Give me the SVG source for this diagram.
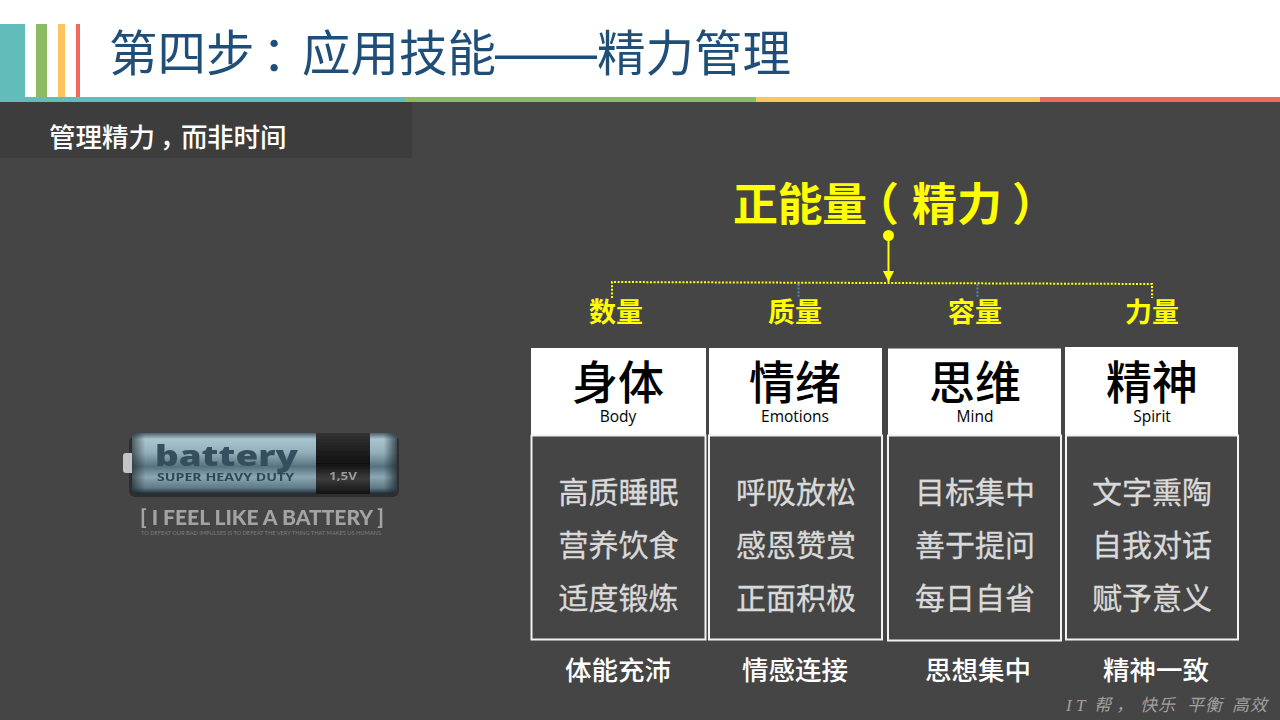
<svg xmlns="http://www.w3.org/2000/svg" width="1280" height="720" viewBox="0 0 1280 720">
<style>
.cjk{font-family:"Noto Sans CJK SC","Microsoft YaHei",sans-serif}
.tc{font-family:"Noto Sans CJK TC",sans-serif}
.lat{font-family:"Open Sans","Noto Sans",sans-serif}
.y{fill:#ffff00;font-weight:700;text-anchor:middle;font-size:27px}
.h{fill:#000;font-weight:500;text-anchor:middle;font-size:46px}
.s{fill:#000;text-anchor:middle;font-size:15.500px}
.b{fill:#d9d9d9;text-anchor:middle;font-size:30px;stroke:#d9d9d9;stroke-width:.3}
.f{fill:#fff;font-weight:500;text-anchor:middle;font-size:26.500px}
.hd{fill:#fff}
.bx{fill:#454545;stroke:#f2f2f2;stroke-width:2}
.dot{fill:none;stroke-width:2;stroke-dasharray:2 1.6}
</style>
<defs>
<linearGradient id="cell" x1="0" y1="0" x2="0" y2="1">
<stop offset="0" stop-color="#4d626c"/><stop offset=".1" stop-color="#a9c4cd"/><stop offset=".32" stop-color="#93b0ba"/><stop offset=".55" stop-color="#56727f"/><stop offset=".72" stop-color="#8aa7b2"/><stop offset=".9" stop-color="#5f7a86"/><stop offset="1" stop-color="#1f2a30"/>
</linearGradient>
<linearGradient id="blk" x1="0" y1="0" x2="0" y2="1">
<stop offset="0" stop-color="#333"/><stop offset=".5" stop-color="#111"/><stop offset=".75" stop-color="#3c3c3c"/><stop offset="1" stop-color="#111"/>
</linearGradient>
<linearGradient id="edge" x1="0" y1="0" x2="1" y2="0">
<stop offset="0" stop-color="#1c262b" stop-opacity=".65"/><stop offset=".05" stop-color="#1c262b" stop-opacity="0"/><stop offset=".95" stop-color="#1c262b" stop-opacity="0"/><stop offset="1" stop-color="#1c262b" stop-opacity=".75"/>
</linearGradient>
<filter id="soft" x="-5%" y="-10%" width="110%" height="120%"><feGaussianBlur stdDeviation=".7"/></filter>
<filter id="soft2" x="-5%" y="-20%" width="110%" height="140%"><feGaussianBlur stdDeviation=".35"/></filter>
<marker id="arr" markerUnits="userSpaceOnUse" markerWidth="12" markerHeight="12" refX="11" refY="6" orient="auto" viewBox="0 0 12 12"><path d="M0 .5V11.500L11 6Z" fill="#ffff00"/></marker>
</defs>
<rect width="1280" height="720" fill="#454545"/>
<g id="header">
<rect width="1280" height="97" fill="#fff"/>
<rect x="0" y="24" width="25" height="73" fill="#62bcb9"/>
<rect x="36" y="24" width="11" height="73" fill="#8cbb63"/>
<rect x="58" y="24" width="7" height="73" fill="#fcc45f"/>
<rect x="76" y="24" width="4" height="73" fill="#f4685c"/>
<rect x="0" y="97" width="405" height="5" fill="#62bcb9"/>
<rect x="405" y="97" width="351" height="5" fill="#8cbb63"/>
<rect x="756" y="97" width="284" height="5" fill="#fcc45f"/>
<rect x="1040" y="97" width="240" height="5" fill="#f4685c"/>
<text class="cjk" font-size="48.500" fill="#1f4e79"><tspan y="71" x="109 157.500 206 262 302 350.500 399 447.500">第四步：应用技能</tspan><tspan y="70" x="495 546" font-family="'Liberation Sans',sans-serif" font-size="51">——</tspan><tspan y="71" x="597 645.500 694 742.500">精力管理</tspan></text>
</g>
<g id="subtitle">
<rect x="0" y="102" width="412" height="56" fill="#3d3d3d"/>
<text class="cjk" y="147" font-size="26.500" font-weight="500" fill="#fff" x="49 75.500 102 128.500 160 181 207 233.500 260">管理精力，而非时间</text>
</g>
<g id="battery">
<g filter="url(#soft)">
<rect x="129" y="436" width="270" height="61" rx="6" fill="#222" opacity=".6"/>
<rect x="123" y="453" width="12" height="20" rx="3" fill="#c4c4c4"/>
<rect x="132" y="433" width="265" height="61" rx="6" fill="url(#cell)"/>
<rect x="316" y="433" width="54" height="61" fill="url(#blk)"/>
<rect x="132" y="433" width="265" height="61" rx="6" fill="url(#edge)"/>
<text class="lat" x="155" y="466" font-size="29" font-weight="800" fill="#35505f" textLength="143" lengthAdjust="spacingAndGlyphs">battery</text>
<text class="lat" x="157" y="481" font-size="11" font-weight="700" fill="#2c4a5a" textLength="137" lengthAdjust="spacingAndGlyphs">SUPER HEAVY DUTY</text>
<text class="lat" x="329" y="480" font-size="11" font-weight="700" fill="#9a9a9a" textLength="28" lengthAdjust="spacingAndGlyphs">1,5V</text>
</g>
<text filter="url(#soft2)" x="140" y="525" font-family="Lato,sans-serif" font-size="21" font-weight="900" fill="#a3a3a3" textLength="244" lengthAdjust="spacingAndGlyphs">[ I FEEL LIKE A BATTERY ]</text>
<text x="141" y="535" font-family="Lato,sans-serif" font-size="5" fill="#7d7d7d" textLength="240" lengthAdjust="spacingAndGlyphs">TO DEFEAT OUR BAD IMPULSES IS TO DEFEAT THE VERY THING THAT MAKES US HUMANS</text>
</g>
<text id="root" y="221" font-size="45" font-weight="700" fill="#ffff00" class="cjk"><tspan x="733 777.500 822">正能量</tspan><tspan class="tc" x="854">（</tspan><tspan x="912 957">精力</tspan><tspan class="tc" x="1012">）</tspan></text>
<g id="connectors">
<circle cx="888.500" cy="235.500" r="5.500" fill="#ffff00"/>
<line x1="888.500" y1="236" x2="888.500" y2="282" stroke="#ffff00" stroke-width="2" marker-end="url(#arr)"/>
<path class="dot" stroke="#ffff00" d="M612 298V282L1152 284V298"/>
<path class="dot" stroke="#5b86b8" d="M798.500 284V298M977.500 284V298"/>
</g>
<g id="col1">
<text class="cjk y" x="616" y="322">数量</text>
<rect class="hd" x="531" y="348" width="175" height="87"/>
<text class="cjk h" x="618" y="399">身体</text>
<text class="lat s" x="618" y="422">Body</text>
<rect class="bx" x="531.500" y="435.500" width="174" height="204"/>
<text class="cjk b" x="618.500" y="502.500">高质睡眠</text>
<text class="cjk b" x="618.500" y="555.500">营养饮食</text>
<text class="cjk b" x="618.500" y="608.500">适度锻炼</text>
<text class="cjk f" x="618" y="680">体能充沛</text>
</g>
<g id="col2">
<text class="cjk y" x="795" y="322">质量</text>
<rect class="hd" x="709" y="348" width="173" height="87"/>
<text class="cjk h" x="795" y="399">情绪</text>
<text class="lat s" x="795" y="422">Emotions</text>
<rect class="bx" x="709" y="435.500" width="173" height="204"/>
<text class="cjk b" x="796" y="502.500">呼吸放松</text>
<text class="cjk b" x="796" y="555.500">感恩赞赏</text>
<text class="cjk b" x="796" y="608.500">正面积极</text>
<text class="cjk f" x="795" y="680">情感连接</text>
</g>
<g id="col3">
<text class="cjk y" x="975" y="322">容量</text>
<rect class="hd" x="888" y="348.500" width="173" height="87"/>
<text class="cjk h" x="975" y="399">思维</text>
<text class="lat s" x="975" y="422">Mind</text>
<rect class="bx" x="888" y="435.500" width="173" height="205"/>
<text class="cjk b" x="975" y="502.500">目标集中</text>
<text class="cjk b" x="975" y="555.500">善于提问</text>
<text class="cjk b" x="975" y="608.500">每日自省</text>
<text class="cjk f" x="978" y="680">思想集中</text>
</g>
<g id="col4">
<text class="cjk y" x="1152" y="322">力量</text>
<rect class="hd" x="1065" y="347" width="173" height="88"/>
<text class="cjk h" x="1152" y="399">精神</text>
<text class="lat s" x="1152" y="422">Spirit</text>
<rect class="bx" x="1066" y="435.500" width="172" height="204"/>
<text class="cjk b" x="1152" y="502.500">文字熏陶</text>
<text class="cjk b" x="1152" y="555.500">自我对话</text>
<text class="cjk b" x="1152" y="608.500">赋予意义</text>
<text class="cjk f" x="1156" y="680">精神一致</text>
</g>
<text id="footer" y="711" font-family="'Liberation Serif','Noto Sans CJK SC',serif" font-style="italic" font-size="17" fill="#a0a0a0" x="1066 1076 1094 1116 1140 1158 1187 1205 1232 1250">IT帮，快乐平衡高效</text>
</svg>
